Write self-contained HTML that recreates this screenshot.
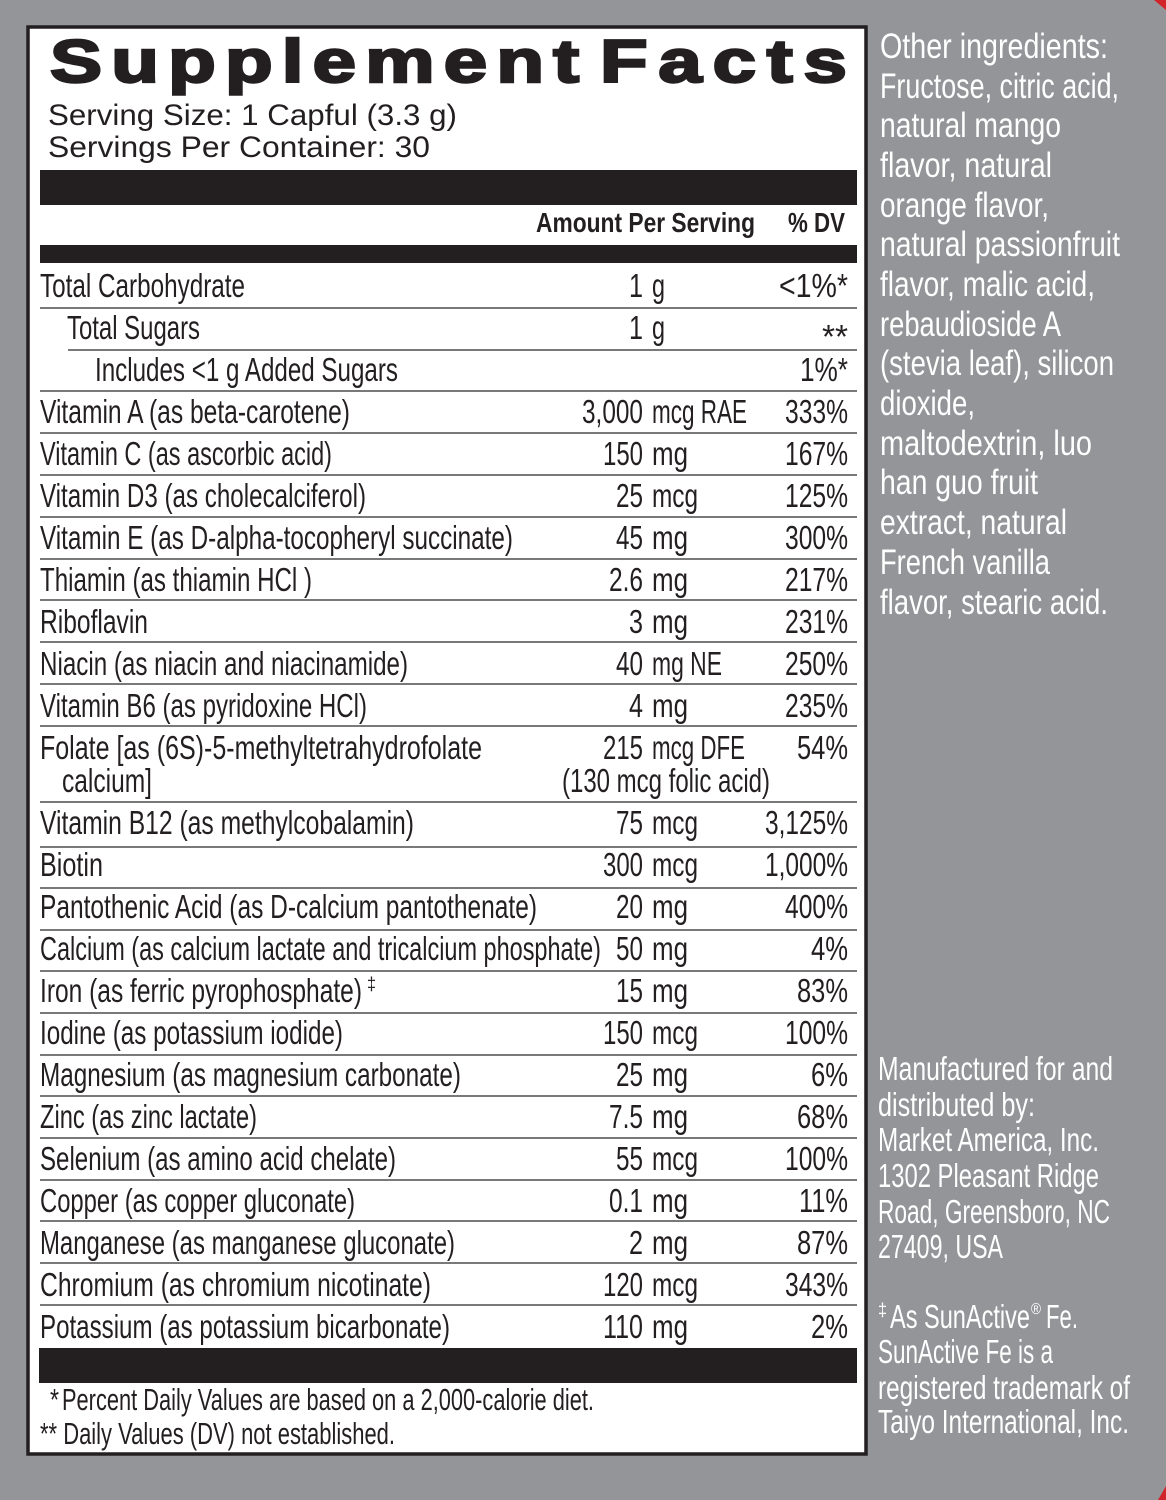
<!DOCTYPE html>
<html><head><meta charset="utf-8"><style>
html,body{margin:0;padding:0;background:#939598;}
body{width:1166px;height:1500px;overflow:hidden;}
svg{display:block;}
.t{font-family:"Liberation Sans Narrow","Liberation Sans",sans-serif;font-size:33px;fill:#231f20;}
.b{font-family:"Liberation Sans Narrow","Liberation Sans",sans-serif;font-size:28px;font-weight:bold;fill:#231f20;}
.s{font-family:"Liberation Sans",sans-serif;font-size:30px;fill:#231f20;}
.h{font-family:"Liberation Sans",sans-serif;font-size:60px;font-weight:bold;fill:#231f20;stroke:#231f20;stroke-width:2.4;}
.w{font-family:"Liberation Sans Narrow","Liberation Sans",sans-serif;font-size:35px;fill:#ffffff;}
.w2{font-family:"Liberation Sans Narrow","Liberation Sans",sans-serif;font-size:33px;fill:#ffffff;}
.f{font-family:"Liberation Sans Narrow","Liberation Sans",sans-serif;font-size:31px;fill:#231f20;}
line{stroke:#4d4d4f;stroke-width:1.6;}
</style></head><body>
<svg width="1166" height="1500" viewBox="0 0 1166 1500" xmlns="http://www.w3.org/2000/svg">
<rect x="0" y="0" width="1166" height="1500" fill="#939598"/>
<polygon points="1154,0 1166,0 1166,10" fill="#d0232a"/>
<polygon points="1166,1486 1166,1500 1158,1500" fill="#d0232a"/>
<rect x="28" y="27" width="838" height="1427" fill="#ffffff" stroke="#231f20" stroke-width="3.5"/>

<!-- header -->
<g transform="scale(1.3,1)">
<text class="h" x="38.5" y="82" textLength="407" lengthAdjust="spacing">Supplement</text>
<text class="h" x="461.5" y="82" textLength="190" lengthAdjust="spacing">Facts</text>
</g>
<text class="s" x="48" y="125" textLength="409" lengthAdjust="spacingAndGlyphs">Serving Size: 1 Capful (3.3 g)</text>
<text class="s" x="48" y="157" textLength="382" lengthAdjust="spacingAndGlyphs">Servings Per Container: 30</text>

<rect x="40" y="170" width="817" height="35" fill="#231f20"/>
<text class="b" x="536" y="232" textLength="219" lengthAdjust="spacingAndGlyphs">Amount Per Serving</text>
<text class="b" x="788" y="232" textLength="57" lengthAdjust="spacingAndGlyphs">% DV</text>
<rect x="40" y="245" width="817" height="18" fill="#231f20"/>

<!-- separators -->
<line x1="40" y1="308" x2="857" y2="308"/>
<line x1="68" y1="350" x2="857" y2="350"/>
<line x1="40" y1="391" x2="857" y2="391"/>
<line x1="40" y1="433" x2="857" y2="433"/>
<line x1="40" y1="475" x2="857" y2="475"/>
<line x1="40" y1="517" x2="857" y2="517"/>
<line x1="40" y1="559" x2="857" y2="559"/>
<line x1="40" y1="600" x2="857" y2="600"/>
<line x1="40" y1="642" x2="857" y2="642"/>
<line x1="40" y1="684" x2="857" y2="684"/>
<line x1="40" y1="726" x2="857" y2="726"/>
<line x1="40" y1="802" x2="857" y2="802"/>
<line x1="40" y1="847" x2="857" y2="847"/>
<line x1="40" y1="888" x2="857" y2="888"/>
<line x1="40" y1="930" x2="857" y2="930"/>
<line x1="40" y1="971" x2="857" y2="971"/>
<line x1="40" y1="1013" x2="857" y2="1013"/>
<line x1="40" y1="1055" x2="857" y2="1055"/>
<line x1="40" y1="1096" x2="857" y2="1096"/>
<line x1="40" y1="1138" x2="857" y2="1138"/>
<line x1="40" y1="1180" x2="857" y2="1180"/>
<line x1="40" y1="1221" x2="857" y2="1221"/>
<line x1="40" y1="1263" x2="857" y2="1263"/>
<line x1="40" y1="1305" x2="857" y2="1305"/>

<!-- labels -->
<g class="t">
<text x="40" y="297" textLength="205" lengthAdjust="spacingAndGlyphs">Total Carbohydrate</text>
<text x="67" y="339" textLength="133" lengthAdjust="spacingAndGlyphs">Total Sugars</text>
<text x="95" y="381" textLength="303" lengthAdjust="spacingAndGlyphs">Includes &lt;1 g Added Sugars</text>
<text x="40" y="423" textLength="310" lengthAdjust="spacingAndGlyphs">Vitamin A (as beta-carotene)</text>
<text x="40" y="465" textLength="292" lengthAdjust="spacingAndGlyphs">Vitamin C (as ascorbic acid)</text>
<text x="40" y="507" textLength="326" lengthAdjust="spacingAndGlyphs">Vitamin D3 (as cholecalciferol)</text>
<text x="40" y="549" textLength="473" lengthAdjust="spacingAndGlyphs">Vitamin E (as D-alpha-tocopheryl succinate)</text>
<text x="40" y="591" textLength="272" lengthAdjust="spacingAndGlyphs">Thiamin (as thiamin HCl )</text>
<text x="40" y="633" textLength="108" lengthAdjust="spacingAndGlyphs">Riboflavin</text>
<text x="40" y="675" textLength="368" lengthAdjust="spacingAndGlyphs">Niacin (as niacin and niacinamide)</text>
<text x="40" y="717" textLength="327" lengthAdjust="spacingAndGlyphs">Vitamin B6 (as pyridoxine HCl)</text>
<text x="40" y="759" textLength="442" lengthAdjust="spacingAndGlyphs">Folate [as (6S)-5-methyltetrahydrofolate</text>
<text x="62" y="792" textLength="90" lengthAdjust="spacingAndGlyphs">calcium]</text>
<text x="40" y="834" textLength="374" lengthAdjust="spacingAndGlyphs">Vitamin B12 (as methylcobalamin)</text>
<text x="40" y="876" textLength="63" lengthAdjust="spacingAndGlyphs">Biotin</text>
<text x="40" y="918" textLength="497" lengthAdjust="spacingAndGlyphs">Pantothenic Acid (as D-calcium pantothenate)</text>
<text x="40" y="960" textLength="561" lengthAdjust="spacingAndGlyphs">Calcium (as calcium lactate and tricalcium phosphate)</text>
<text x="40" y="1002" textLength="322" lengthAdjust="spacingAndGlyphs">Iron (as ferric pyrophosphate)</text>
<text x="367" y="990" style="font-size:18px" textLength="9" lengthAdjust="spacingAndGlyphs">‡</text>
<text x="40" y="1044" textLength="303" lengthAdjust="spacingAndGlyphs">Iodine (as potassium iodide)</text>
<text x="40" y="1086" textLength="421" lengthAdjust="spacingAndGlyphs">Magnesium (as magnesium carbonate)</text>
<text x="40" y="1128" textLength="217" lengthAdjust="spacingAndGlyphs">Zinc (as zinc lactate)</text>
<text x="40" y="1170" textLength="356" lengthAdjust="spacingAndGlyphs">Selenium (as amino acid chelate)</text>
<text x="40" y="1212" textLength="315" lengthAdjust="spacingAndGlyphs">Copper (as copper gluconate)</text>
<text x="40" y="1254" textLength="415" lengthAdjust="spacingAndGlyphs">Manganese (as manganese gluconate)</text>
<text x="40" y="1296" textLength="391" lengthAdjust="spacingAndGlyphs">Chromium (as chromium nicotinate)</text>
<text x="40" y="1338" textLength="410" lengthAdjust="spacingAndGlyphs">Potassium (as potassium bicarbonate)</text>
</g>

<!-- amounts -->
<g class="t">
<text x="629" y="297" textLength="14" lengthAdjust="spacingAndGlyphs">1</text><text x="652" y="297" textLength="13" lengthAdjust="spacingAndGlyphs">g</text>
<text x="629" y="339" textLength="14" lengthAdjust="spacingAndGlyphs">1</text><text x="652" y="339" textLength="13" lengthAdjust="spacingAndGlyphs">g</text>
<text x="582" y="423" textLength="61" lengthAdjust="spacingAndGlyphs">3,000</text><text x="652" y="423" textLength="95" lengthAdjust="spacingAndGlyphs">mcg RAE</text>
<text x="603" y="465" textLength="40" lengthAdjust="spacingAndGlyphs">150</text><text x="652" y="465" textLength="36" lengthAdjust="spacingAndGlyphs">mg</text>
<text x="616" y="507" textLength="27" lengthAdjust="spacingAndGlyphs">25</text><text x="652" y="507" textLength="46" lengthAdjust="spacingAndGlyphs">mcg</text>
<text x="616" y="549" textLength="27" lengthAdjust="spacingAndGlyphs">45</text><text x="652" y="549" textLength="36" lengthAdjust="spacingAndGlyphs">mg</text>
<text x="609" y="591" textLength="34" lengthAdjust="spacingAndGlyphs">2.6</text><text x="652" y="591" textLength="36" lengthAdjust="spacingAndGlyphs">mg</text>
<text x="629" y="633" textLength="14" lengthAdjust="spacingAndGlyphs">3</text><text x="652" y="633" textLength="36" lengthAdjust="spacingAndGlyphs">mg</text>
<text x="616" y="675" textLength="27" lengthAdjust="spacingAndGlyphs">40</text><text x="652" y="675" textLength="70" lengthAdjust="spacingAndGlyphs">mg NE</text>
<text x="629" y="717" textLength="14" lengthAdjust="spacingAndGlyphs">4</text><text x="652" y="717" textLength="36" lengthAdjust="spacingAndGlyphs">mg</text>
<text x="603" y="759" textLength="40" lengthAdjust="spacingAndGlyphs">215</text><text x="652" y="759" textLength="93" lengthAdjust="spacingAndGlyphs">mcg DFE</text>
<text x="562" y="792" textLength="208" lengthAdjust="spacingAndGlyphs">(130 mcg folic acid)</text>
<text x="616" y="834" textLength="27" lengthAdjust="spacingAndGlyphs">75</text><text x="652" y="834" textLength="46" lengthAdjust="spacingAndGlyphs">mcg</text>
<text x="603" y="876" textLength="40" lengthAdjust="spacingAndGlyphs">300</text><text x="652" y="876" textLength="46" lengthAdjust="spacingAndGlyphs">mcg</text>
<text x="616" y="918" textLength="27" lengthAdjust="spacingAndGlyphs">20</text><text x="652" y="918" textLength="36" lengthAdjust="spacingAndGlyphs">mg</text>
<text x="616" y="960" textLength="27" lengthAdjust="spacingAndGlyphs">50</text><text x="652" y="960" textLength="36" lengthAdjust="spacingAndGlyphs">mg</text>
<text x="616" y="1002" textLength="27" lengthAdjust="spacingAndGlyphs">15</text><text x="652" y="1002" textLength="36" lengthAdjust="spacingAndGlyphs">mg</text>
<text x="603" y="1044" textLength="40" lengthAdjust="spacingAndGlyphs">150</text><text x="652" y="1044" textLength="46" lengthAdjust="spacingAndGlyphs">mcg</text>
<text x="616" y="1086" textLength="27" lengthAdjust="spacingAndGlyphs">25</text><text x="652" y="1086" textLength="36" lengthAdjust="spacingAndGlyphs">mg</text>
<text x="609" y="1128" textLength="34" lengthAdjust="spacingAndGlyphs">7.5</text><text x="652" y="1128" textLength="36" lengthAdjust="spacingAndGlyphs">mg</text>
<text x="616" y="1170" textLength="27" lengthAdjust="spacingAndGlyphs">55</text><text x="652" y="1170" textLength="46" lengthAdjust="spacingAndGlyphs">mcg</text>
<text x="609" y="1212" textLength="34" lengthAdjust="spacingAndGlyphs">0.1</text><text x="652" y="1212" textLength="36" lengthAdjust="spacingAndGlyphs">mg</text>
<text x="629" y="1254" textLength="14" lengthAdjust="spacingAndGlyphs">2</text><text x="652" y="1254" textLength="36" lengthAdjust="spacingAndGlyphs">mg</text>
<text x="603" y="1296" textLength="40" lengthAdjust="spacingAndGlyphs">120</text><text x="652" y="1296" textLength="46" lengthAdjust="spacingAndGlyphs">mcg</text>
<text x="603" y="1338" textLength="40" lengthAdjust="spacingAndGlyphs">110</text><text x="652" y="1338" textLength="36" lengthAdjust="spacingAndGlyphs">mg</text>
</g>

<!-- % DV -->
<g class="t">
<text x="779" y="297" textLength="69" lengthAdjust="spacingAndGlyphs">&lt;1%*</text>
<text x="822" y="348" textLength="26" lengthAdjust="spacingAndGlyphs">**</text>
<text x="800" y="381" textLength="48" lengthAdjust="spacingAndGlyphs">1%*</text>
<text x="785" y="423" textLength="63" lengthAdjust="spacingAndGlyphs">333%</text>
<text x="785" y="465" textLength="63" lengthAdjust="spacingAndGlyphs">167%</text>
<text x="785" y="507" textLength="63" lengthAdjust="spacingAndGlyphs">125%</text>
<text x="785" y="549" textLength="63" lengthAdjust="spacingAndGlyphs">300%</text>
<text x="785" y="591" textLength="63" lengthAdjust="spacingAndGlyphs">217%</text>
<text x="785" y="633" textLength="63" lengthAdjust="spacingAndGlyphs">231%</text>
<text x="785" y="675" textLength="63" lengthAdjust="spacingAndGlyphs">250%</text>
<text x="785" y="717" textLength="63" lengthAdjust="spacingAndGlyphs">235%</text>
<text x="797" y="759" textLength="51" lengthAdjust="spacingAndGlyphs">54%</text>
<text x="765" y="834" textLength="83" lengthAdjust="spacingAndGlyphs">3,125%</text>
<text x="765" y="876" textLength="83" lengthAdjust="spacingAndGlyphs">1,000%</text>
<text x="785" y="918" textLength="63" lengthAdjust="spacingAndGlyphs">400%</text>
<text x="811" y="960" textLength="37" lengthAdjust="spacingAndGlyphs">4%</text>
<text x="797" y="1002" textLength="51" lengthAdjust="spacingAndGlyphs">83%</text>
<text x="785" y="1044" textLength="63" lengthAdjust="spacingAndGlyphs">100%</text>
<text x="811" y="1086" textLength="37" lengthAdjust="spacingAndGlyphs">6%</text>
<text x="797" y="1128" textLength="51" lengthAdjust="spacingAndGlyphs">68%</text>
<text x="785" y="1170" textLength="63" lengthAdjust="spacingAndGlyphs">100%</text>
<text x="799" y="1212" textLength="49" lengthAdjust="spacingAndGlyphs">11%</text>
<text x="797" y="1254" textLength="51" lengthAdjust="spacingAndGlyphs">87%</text>
<text x="785" y="1296" textLength="63" lengthAdjust="spacingAndGlyphs">343%</text>
<text x="811" y="1338" textLength="37" lengthAdjust="spacingAndGlyphs">2%</text>
</g>

<rect x="39" y="1348" width="818" height="35" fill="#231f20"/>
<text class="f" x="50" y="1410" textLength="9" lengthAdjust="spacingAndGlyphs">*</text>
<text class="f" x="62" y="1410" textLength="532" lengthAdjust="spacingAndGlyphs">Percent Daily Values are based on a 2,000-calorie diet.</text>
<text class="f" x="40" y="1444" textLength="355" lengthAdjust="spacingAndGlyphs">** Daily Values (DV) not established.</text>

<!-- right column -->
<g class="w">
<text x="880" y="58" textLength="228" lengthAdjust="spacingAndGlyphs">Other ingredients:</text>
<text x="880" y="98" textLength="239" lengthAdjust="spacingAndGlyphs">Fructose, citric acid,</text>
<text x="880" y="137" textLength="181" lengthAdjust="spacingAndGlyphs">natural mango</text>
<text x="880" y="177" textLength="172" lengthAdjust="spacingAndGlyphs">flavor, natural</text>
<text x="880" y="217" textLength="169" lengthAdjust="spacingAndGlyphs">orange flavor,</text>
<text x="880" y="256" textLength="240" lengthAdjust="spacingAndGlyphs">natural passionfruit</text>
<text x="880" y="296" textLength="215" lengthAdjust="spacingAndGlyphs">flavor, malic acid,</text>
<text x="880" y="336" textLength="181" lengthAdjust="spacingAndGlyphs">rebaudioside A</text>
<text x="880" y="375" textLength="234" lengthAdjust="spacingAndGlyphs">(stevia leaf), silicon</text>
<text x="880" y="415" textLength="95" lengthAdjust="spacingAndGlyphs">dioxide,</text>
<text x="880" y="455" textLength="212" lengthAdjust="spacingAndGlyphs">maltodextrin, luo</text>
<text x="880" y="494" textLength="158" lengthAdjust="spacingAndGlyphs">han guo fruit</text>
<text x="880" y="534" textLength="187" lengthAdjust="spacingAndGlyphs">extract, natural</text>
<text x="880" y="574" textLength="170" lengthAdjust="spacingAndGlyphs">French vanilla</text>
<text x="880" y="614" textLength="228" lengthAdjust="spacingAndGlyphs">flavor, stearic acid.</text>
</g>
<g class="w2">
<text x="878" y="1080" textLength="235" lengthAdjust="spacingAndGlyphs">Manufactured for and</text>
<text x="878" y="1116" textLength="157" lengthAdjust="spacingAndGlyphs">distributed by:</text>
<text x="878" y="1151" textLength="221" lengthAdjust="spacingAndGlyphs">Market America, Inc.</text>
<text x="878" y="1187" textLength="221" lengthAdjust="spacingAndGlyphs">1302 Pleasant Ridge</text>
<text x="878" y="1223" textLength="232" lengthAdjust="spacingAndGlyphs">Road, Greensboro, NC</text>
<text x="878" y="1258" textLength="125" lengthAdjust="spacingAndGlyphs">27409, USA</text>
<text x="878" y="1316" style="font-size:18px" textLength="9" lengthAdjust="spacingAndGlyphs">‡</text>
<text x="890" y="1328" textLength="140" lengthAdjust="spacingAndGlyphs">As SunActive</text>
<text x="1031" y="1314" style="font-size:16px" textLength="10" lengthAdjust="spacingAndGlyphs">®</text>
<text x="1046" y="1328" textLength="32" lengthAdjust="spacingAndGlyphs">Fe.</text>
<text x="878" y="1363" textLength="175" lengthAdjust="spacingAndGlyphs">SunActive Fe is a</text>
<text x="878" y="1399" textLength="252" lengthAdjust="spacingAndGlyphs">registered trademark of</text>
<text x="878" y="1433" textLength="251" lengthAdjust="spacingAndGlyphs">Taiyo International, Inc.</text>
</g>
</svg>
</body></html>
